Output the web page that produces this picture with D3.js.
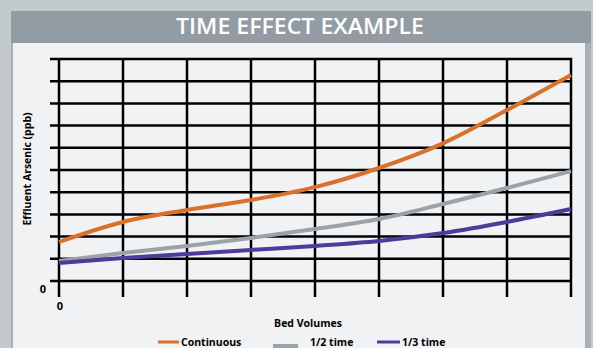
<!DOCTYPE html>
<html>
<head>
<meta charset="utf-8">
<script src="https://cdn.jsdelivr.net/npm/d3@7"></script>
<style>
  body { margin: 0; background: #c3cacd; }
  text { font-family: "Open Sans", "Noto Sans", sans-serif; }
</style>
</head>
<body>
<script>
// values (x = bed volume step, y = grid units)
const bedVolumes = [0, 1, 2, 3, 4, 5, 6, 7, 8];
const continuous = [1.76, 2.66, 3.2, 3.65, 4.23, 5.09, 6.2, 7.7, 9.28];
const halfTime   = [0.9, 1.26, 1.58, 1.94, 2.34, 2.79, 3.47, 4.19, 4.95];
const thirdTime  = [0.81, 1.04, 1.22, 1.4, 1.58, 1.8, 2.16, 2.66, 3.24];
const seriesNames = ["Continuous", "1/2 time", "1/3 time"];
const colors = ["#d9712b", "#9aa3a8", "#4e3a98"];
const yGrid = d3.range(0, 11);

const W = 593, H = 348;
const svg = d3.select("body").append("svg").attr("width", W).attr("height", H);

// panel
svg.append("rect").attr("x", 0).attr("y", 0).attr("width", W).attr("height", H).attr("fill", "#c3cacd");
svg.append("rect").attr("x", 11).attr("y", 11).attr("width", 580).attr("height", H - 11).attr("fill", "#a9b1b5");
svg.append("rect").attr("x", 13).attr("y", 43).attr("width", 572).attr("height", H - 43).attr("fill", "#f0f2f4");
svg.append("rect").attr("x", 11).attr("y", 11).attr("width", 580).attr("height", 32).attr("fill", "#929ca2");
svg.append("text").attr("x", 300).attr("y", 34).attr("text-anchor", "middle")
  .attr("fill", "#fff").attr("font-size", 22).attr("font-weight", 600)
  .attr("textLength", 248).attr("lengthAdjust", "spacingAndGlyphs")
  .text("TIME EFFECT EXAMPLE");

const x = d3.scaleLinear().domain([0, 8]).range([59, 571]);
const y = d3.scaleLinear().domain([0, 10]).range([281, 59]);

const grid = svg.append("g").attr("stroke", "#000").attr("stroke-width", 2.5);
grid.selectAll(".h").data(yGrid).join("line")
  .attr("x1", x(0) - 9).attr("x2", x(8) + 1)
  .attr("y1", d => y(d)).attr("y2", d => y(d));
grid.selectAll(".v").data(bedVolumes).join("line")
  .attr("x1", d => x(d)).attr("x2", d => x(d))
  .attr("y1", y(10) - 1).attr("y2", y(0) + 16);

// axis labels
svg.append("text").attr("x", 43).attr("y", 293).attr("text-anchor", "middle")
  .attr("font-size", 11).attr("font-weight", 700).text("0");
svg.append("text").attr("x", x(0) + 1).attr("y", 310).attr("text-anchor", "middle")
  .attr("font-size", 11).attr("font-weight", 700).text("0");
svg.append("text").attr("transform", "translate(31,169) rotate(-90)").attr("text-anchor", "middle")
  .attr("font-size", 10.5).attr("font-weight", 700).text("Effluent Arsenic (ppb)");
svg.append("text").attr("x", 308).attr("y", 327).attr("text-anchor", "middle")
  .attr("font-size", 10.5).attr("font-weight", 700).text("Bed Volumes");

// curves
const line = d3.line().x((d, i) => x(bedVolumes[i])).y(d => y(d)).curve(d3.curveMonotoneX);
[continuous, halfTime, thirdTime].forEach((s, i) => {
  svg.append("path").attr("d", line(s)).attr("fill", "none")
    .attr("stroke", colors[i]).attr("stroke-width", 4);
});

// legend
const leg = [
  { x1: 158, x2: 179, tx: 181 },
  { x1: 273, x2: 298, tx: 310 },
  { x1: 377, x2: 400, tx: 402 }
];
leg.forEach((l, i) => {
  if (i === 1) {
    svg.append("rect").attr("x", l.x1).attr("y", 344).attr("width", l.x2 - l.x1).attr("height", 6).attr("fill", colors[i]);
  } else {
    svg.append("line").attr("x1", l.x1).attr("x2", l.x2).attr("y1", 342).attr("y2", 342)
      .attr("stroke", colors[i]).attr("stroke-width", 3);
  }
  svg.append("text").attr("x", l.tx).attr("y", 345.5).attr("font-size", 10.5).attr("font-weight", 700)
    .text(seriesNames[i]);
});
</script>
</body>
</html>
